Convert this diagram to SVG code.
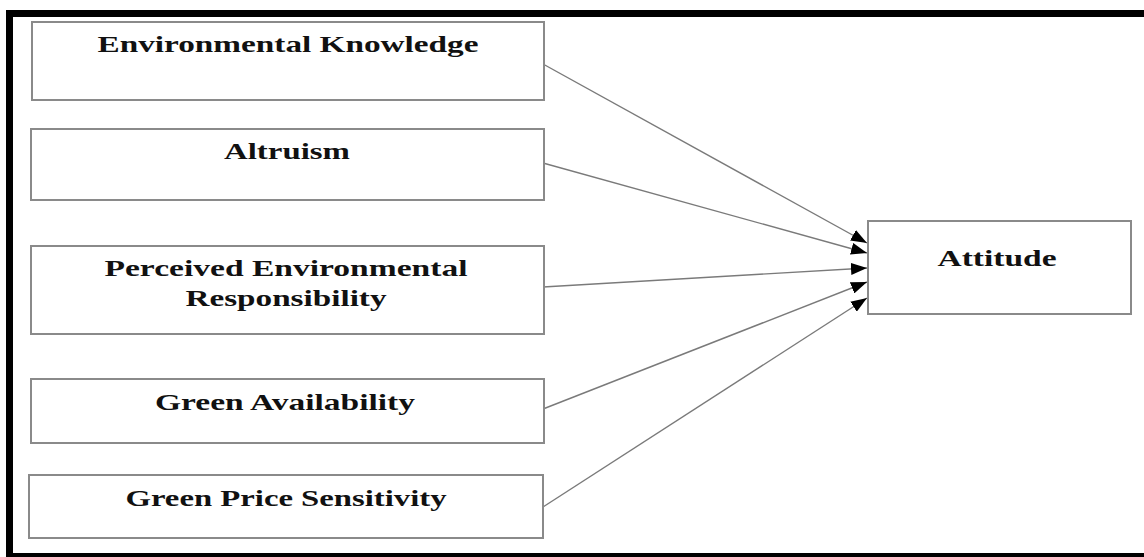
<svg xmlns="http://www.w3.org/2000/svg" width="1144" height="557" viewBox="0 0 1144 557">
  <style>
    .box { fill: #ffffff; stroke: #8a8a8a; stroke-width: 2; }
    .lbl { font-family: "Liberation Serif", "Times New Roman", serif; font-weight: bold; font-size: 24px; fill: #111111; text-anchor: middle; }
    .conn { stroke: #7a7a7a; stroke-width: 1.4; fill: none; marker-end: url(#arrow); }
    .frame { fill: #000000; }
  </style>
  <defs>
    <marker id="arrow" markerUnits="userSpaceOnUse" markerWidth="16" markerHeight="12" refX="16" refY="6" orient="auto">
      <path d="M0,0 L16,6 L0,12 z" fill="#000000"/>
    </marker>
  </defs>
  <rect x="0" y="0" width="1144" height="557" fill="#ffffff"/>
  <g id="frame">
    <rect class="frame" x="6" y="10" width="1138" height="7"/>
    <rect class="frame" x="6" y="10" width="7" height="547"/>
    <rect class="frame" x="6" y="553" width="1138" height="4"/>
  </g>
  <g id="connectors">
    <line class="conn" x1="543" y1="64" x2="867" y2="243"/>
    <line class="conn" x1="543" y1="163" x2="867" y2="253"/>
    <line class="conn" x1="543" y1="287" x2="867" y2="268"/>
    <line class="conn" x1="543" y1="409" x2="867" y2="282"/>
    <line class="conn" x1="543" y1="507" x2="867" y2="298"/>
  </g>
  <g id="node-environmental-knowledge">
    <rect class="box" x="32" y="22" width="512" height="78"/>
    <text class="lbl" x="288" y="52" textLength="381" lengthAdjust="spacingAndGlyphs">Environmental Knowledge</text>
  </g>
  <g id="node-altruism">
    <rect class="box" x="31" y="129" width="513" height="71"/>
    <text class="lbl" x="287" y="159" textLength="126" lengthAdjust="spacingAndGlyphs">Altruism</text>
  </g>
  <g id="node-perceived-environmental-responsibility">
    <rect class="box" x="31" y="246" width="513" height="88"/>
    <text class="lbl" x="286" y="276" textLength="363" lengthAdjust="spacingAndGlyphs">Perceived Environmental</text>
    <text class="lbl" x="286" y="306" textLength="201" lengthAdjust="spacingAndGlyphs">Responsibility</text>
  </g>
  <g id="node-green-availability">
    <rect class="box" x="31" y="379" width="513" height="64"/>
    <text class="lbl" x="285" y="410" textLength="260" lengthAdjust="spacingAndGlyphs">Green Availability</text>
  </g>
  <g id="node-green-price-sensitivity">
    <rect class="box" x="29" y="475" width="514" height="63"/>
    <text class="lbl" x="286" y="506" textLength="321" lengthAdjust="spacingAndGlyphs">Green Price Sensitivity</text>
  </g>
  <g id="node-attitude">
    <rect class="box" x="868" y="221" width="263" height="93"/>
    <text class="lbl" x="997" y="266" textLength="119" lengthAdjust="spacingAndGlyphs">Attitude</text>
  </g>
</svg>
